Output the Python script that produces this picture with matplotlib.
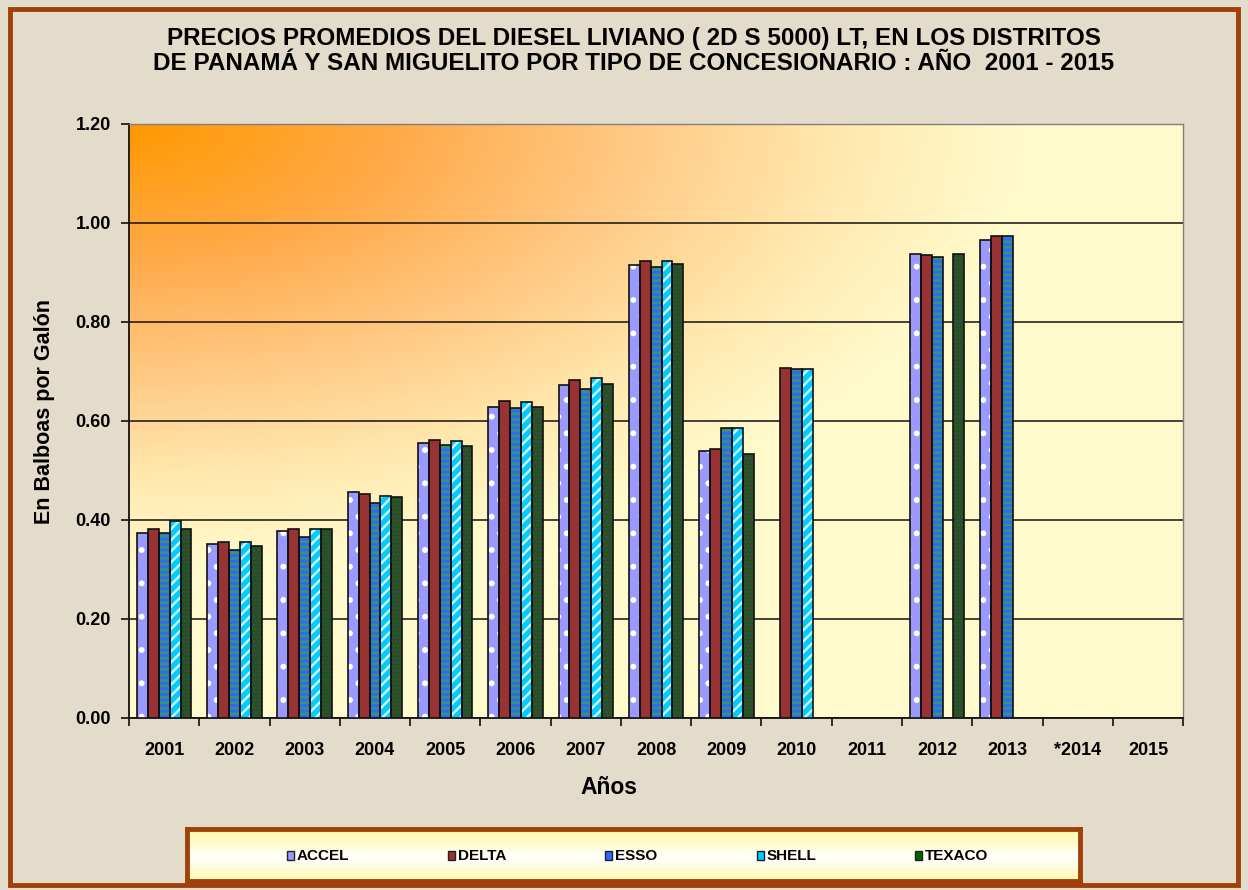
import numpy as np
import matplotlib.pyplot as plt
from matplotlib.colors import LinearSegmentedColormap
from matplotlib.patches import Rectangle

plt.rcParams['font.family'] = ['Liberation Sans', 'DejaVu Sans']
plt.rcParams['font.weight'] = 'bold'
plt.rcParams['axes.labelweight'] = 'bold'
plt.rcParams['hatch.linewidth'] = 1.8

# Data
years = ['2001', '2002', '2003', '2004', '2005', '2006', '2007', '2008',
         '2009', '2010', '2011', '2012', '2013', '*2014', '2015']
series = ['ACCEL', 'DELTA', 'ESSO', 'SHELL', 'TEXACO']
accel = [0.373, 0.352, 0.378, 0.457, 0.556, 0.628, 0.672, 0.915, 0.540, np.nan, np.nan, 0.937, 0.965, np.nan, np.nan]
delta = [0.382, 0.355, 0.382, 0.452, 0.562, 0.640, 0.683, 0.924, 0.543, 0.707, np.nan, 0.935, 0.974, np.nan, np.nan]
esso = [0.373, 0.340, 0.366, 0.434, 0.552, 0.626, 0.665, 0.912, 0.585, 0.704, np.nan, 0.932, 0.974, np.nan, np.nan]
shell = [0.397, 0.355, 0.381, 0.449, 0.559, 0.638, 0.687, 0.924, 0.585, 0.704, np.nan, np.nan, np.nan, np.nan, np.nan]
texaco = [0.382, 0.348, 0.381, 0.446, 0.549, 0.628, 0.675, 0.918, 0.534, np.nan, np.nan, 0.937, np.nan, np.nan, np.nan]
values = [accel, delta, esso, shell, texaco]

# fill colour, hatch, hatch colour
styles = [('#9999FF', '.', '#FFFFFF'),
          ('#993333', '', '#993333'),
          ('#3366FF', '---', '#339966'),
          ('#00CCFF', '///', '#CCF4FF'),
          ('#006600', '....', '#663366')]

fig = plt.figure(figsize=(12.48, 8.9), dpi=100)
fig.patch.set_facecolor('#E4DCCB')
fig.patches.append(Rectangle((0.008, 0.006), 0.984, 0.984, transform=fig.transFigure,
                             fill=False, edgecolor='#A0400A', linewidth=3.5))

ax = fig.add_axes([0.1034, 0.1933, 0.8446, 0.6674])

# gradient background of the plot area (orange at top-left)
nx, ny = 400, 300
xx, yy = np.meshgrid(np.linspace(0, 1, nx), np.linspace(0, 1, ny))
t = np.clip(np.sqrt((xx / 0.85) ** 2 + (yy / 0.75) ** 2), 0, 1)
cmap = LinearSegmentedColormap.from_list('bg', [(0, '#FF9900'), (0.3, '#FFAA4A'),
                                                (0.55, '#FFC882'), (0.8, '#FFE9B0'),
                                                (1, '#FFFACC')])
x = np.arange(len(years))
ax.imshow(t, cmap=cmap, extent=[-0.5, len(years) - 0.5, 0, 1.2], origin='upper',
          aspect='auto', zorder=0, vmin=0, vmax=1)

ax.set_xlim(-0.5, len(years) - 0.5)
ax.set_ylim(0, 1.2)

w = 0.155
for i, (vals, (fc, hatch, hc)) in enumerate(zip(values, styles)):
    pos = x + (i - 2) * w
    ax.bar(pos, vals, w, color=fc, hatch=hatch, edgecolor=hc, linewidth=0, zorder=3)
    ax.bar(pos, vals, w, fill=False, edgecolor='#111111', linewidth=1.2, zorder=4)

ax.set_yticks(np.arange(0, 1.21, 0.2))
ax.set_yticklabels([f'{v:.2f}' for v in np.arange(0, 1.21, 0.2)], fontsize=13)
ax.grid(axis='y', color='#111111', linewidth=1.1, zorder=1)
ax.set_axisbelow(True)
ax.set_xticks(x)
ax.set_xticklabels(years, fontsize=13)
ax.tick_params(axis='x', length=0, pad=17)
ax.set_xticks(np.arange(-0.5, len(years)), minor=True)
ax.tick_params(axis='x', which='minor', length=6, width=1.2, color='#111111')
ax.tick_params(axis='y', length=6, width=1.2, color='#111111', pad=7)
for s in ['top', 'right']:
    ax.spines[s].set_color('#808080')
    ax.spines[s].set_linewidth(1)
for s in ['left', 'bottom']:
    ax.spines[s].set_color('#111111')
    ax.spines[s].set_linewidth(1.3)

fig.text(609 / 1248, 1 - 787 / 890, 'Años', fontsize=16.5, fontweight='bold',
         ha='center', va='center')
fig.text(45 / 1248, 1 - 412 / 890, 'En Balboas por Galón', fontsize=15.5,
         fontweight='bold', rotation=90, ha='center', va='center')

fig.text(0.508, 1 - 51 / 890,
         'PRECIOS PROMEDIOS DEL DIESEL LIVIANO ( 2D S 5000) LT, EN LOS DISTRITOS\n'
         'DE PANAMÁ Y SAN MIGUELITO POR TIPO DE CONCESIONARIO : AÑO  2001 - 2015',
         ha='center', va='center', fontsize=17.5, fontweight='bold', linespacing=1.12)

# legend box
lax = fig.add_axes([187 / 1248, 9 / 890, 893 / 1248, 52 / 890])
lg = np.linspace(0, 1, 100).reshape(-1, 1)
lg = np.abs(lg - 0.55)
lcmap = LinearSegmentedColormap.from_list('lg', ['#FFFFFF', '#FFFAB0'])
lax.imshow(lg, cmap=lcmap, extent=[0, 1, 0, 1], aspect='auto', vmin=0, vmax=0.45)
lax.set_xlim(0, 1)
lax.set_ylim(0, 1)
lax.set_xticks([])
lax.set_yticks([])
for s in lax.spines.values():
    s.set_color('#A0400A')
    s.set_linewidth(3.5)
legend_x = [0.112, 0.292, 0.468, 0.638, 0.815]
for lx, name, (fc, hatch, hc) in zip(legend_x, series, styles):
    lax.add_patch(Rectangle((lx, 0.41), 0.008, 0.16, facecolor=fc, edgecolor='#222222',
                            linewidth=1))
    lax.text(lx + 0.011, 0.49, name, fontsize=11, va='center', ha='left')

fig.savefig('out.png', dpi=100, facecolor=fig.get_facecolor())
